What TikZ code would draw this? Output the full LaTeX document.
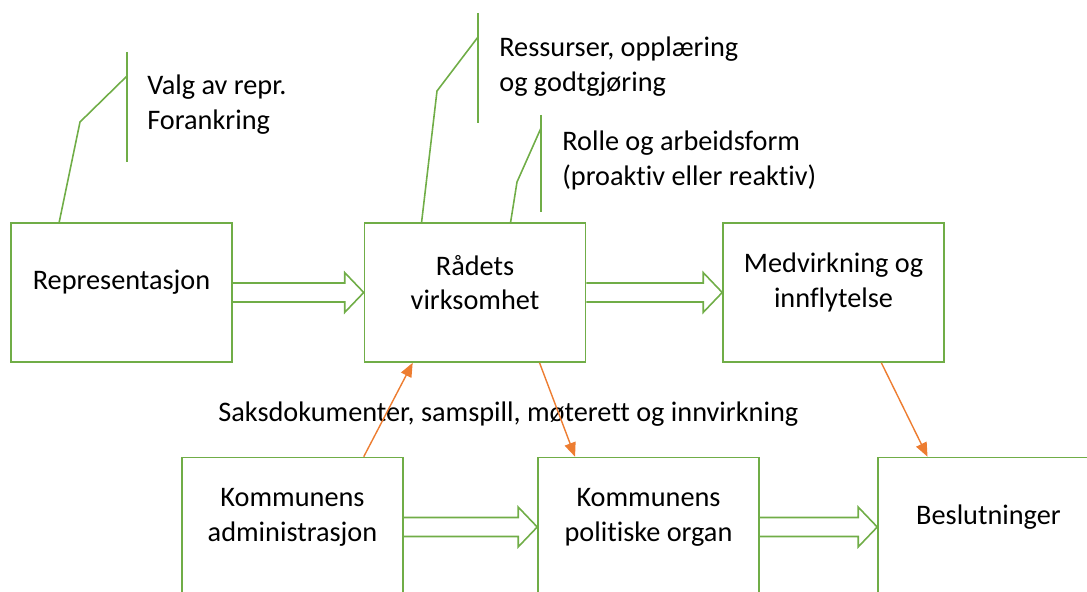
\documentclass[tikz,border=0pt]{standalone}
\usepackage{fontspec}
\setmainfont{Carlito}[Ligatures=NoCommon]
\usepackage{tikz}
\usetikzlibrary{calc,arrows.meta}
\definecolor{boxgreen}{RGB}{112,173,71}
\definecolor{arroworange}{RGB}{237,125,49}
\tikzset{green box/.style={rectangle,draw=boxgreen,line width=0.9pt,minimum width=4.42cm,minimum height=2.78cm,inner sep=0pt},
	box text/.style={align=center,yshift=5.7pt,inner sep=0pt,font=\fontsize{16.1pt}{19.8pt}\selectfont},
	green line/.style={draw=boxgreen,line width=0.9pt},
	orange arrow/.style={draw=arroworange,line width=0.8pt,-{Triangle[length=8pt,width=6.5pt]}},
	note/.style={align=left,anchor=west,inner sep=0pt,font=\fontsize{16.1pt}{19.8pt}\selectfont}}

\begin{document}
\begin{tikzpicture}[x=0.02cm,y=-0.02cm]
	\useasboundingbox (0,0) rectangle (1087,591);
	\clip (0,0) rectangle (1087,591);
	
	\foreach \name/\x/\y/\txt in {rep/121.5/292.5/Representasjon, rad/475/292.5/{Rådets\\virksomhet}, med/833.5/292.5/{Medvirkning og\\innflytelse}, adm/292.5/527/{Kommunens\\administrasjon}, pol/648.5/527/{Kommunens\\politiske organ}, bes/988.5/527/Beslutninger}{
		\node [green box, label={[box text]center:\txt}] (\name) at (\x,\y) {};
	}
	
	\foreach \a/\b in {rep/rad,rad/med,adm/pol,pol/bes}{
		\draw [green line] let \p1 = (\a.east), \p2 = (\b.west) in
			(\x1,\y1+5.4pt) -- (\x2-10.8pt,\y1+5.4pt) -- (\x2-10.8pt,\y1+11.3pt) -- (\x2,\y1)
			-- (\x2-10.8pt,\y1-11.3pt) -- (\x2-10.8pt,\y1-5.4pt) -- (\x1,\y1-5.4pt);
	}
	
	% callouts
	\draw [green line] ($(rep.north west)!0.22!(rep.north east)$) -- (80,122) -- (127,76);
	\draw [green line] (127,52) -- (127,162);
	\node [note] (valg) at (147,104.5) {Valg av repr.\\Forankring};
	
	\draw [green line] ($(rad.north west)!0.26!(rad.north east)$) -- (437,91) -- (478,37);
	\draw [green line] (478,13) -- (478,123);
	\node [note] (ress) at (499,66.5) {Ressurser, opplæring\\og godtgjøring};
	
	\draw [green line] ($(rad.north west)!0.66!(rad.north east)$) -- (517,182) -- (541,128);
	\draw [green line] (541,115) -- (541,212);
	\node [note] (rolle) at (562,160.5) {Rolle og arbeidsform\\(proaktiv eller reaktiv)};
	
	\node [note] (saks) at (218,414) {Saksdokumenter, samspill, møterett og innvirkning};
	
	\draw [orange arrow] ($(adm.north west)!0.82!(adm.north east)$) -- ($(rad.south west)!0.22!(rad.south east)$);
	\draw [orange arrow] ($(rad.south west)!0.79!(rad.south east)$) -- ($(pol.north west)!0.17!(pol.north east)$);
	\draw [orange arrow] ($(med.south west)!0.715!(med.south east)$) -- ($(bes.north west)!0.226!(bes.north east)$);
\end{tikzpicture}
\end{document}
